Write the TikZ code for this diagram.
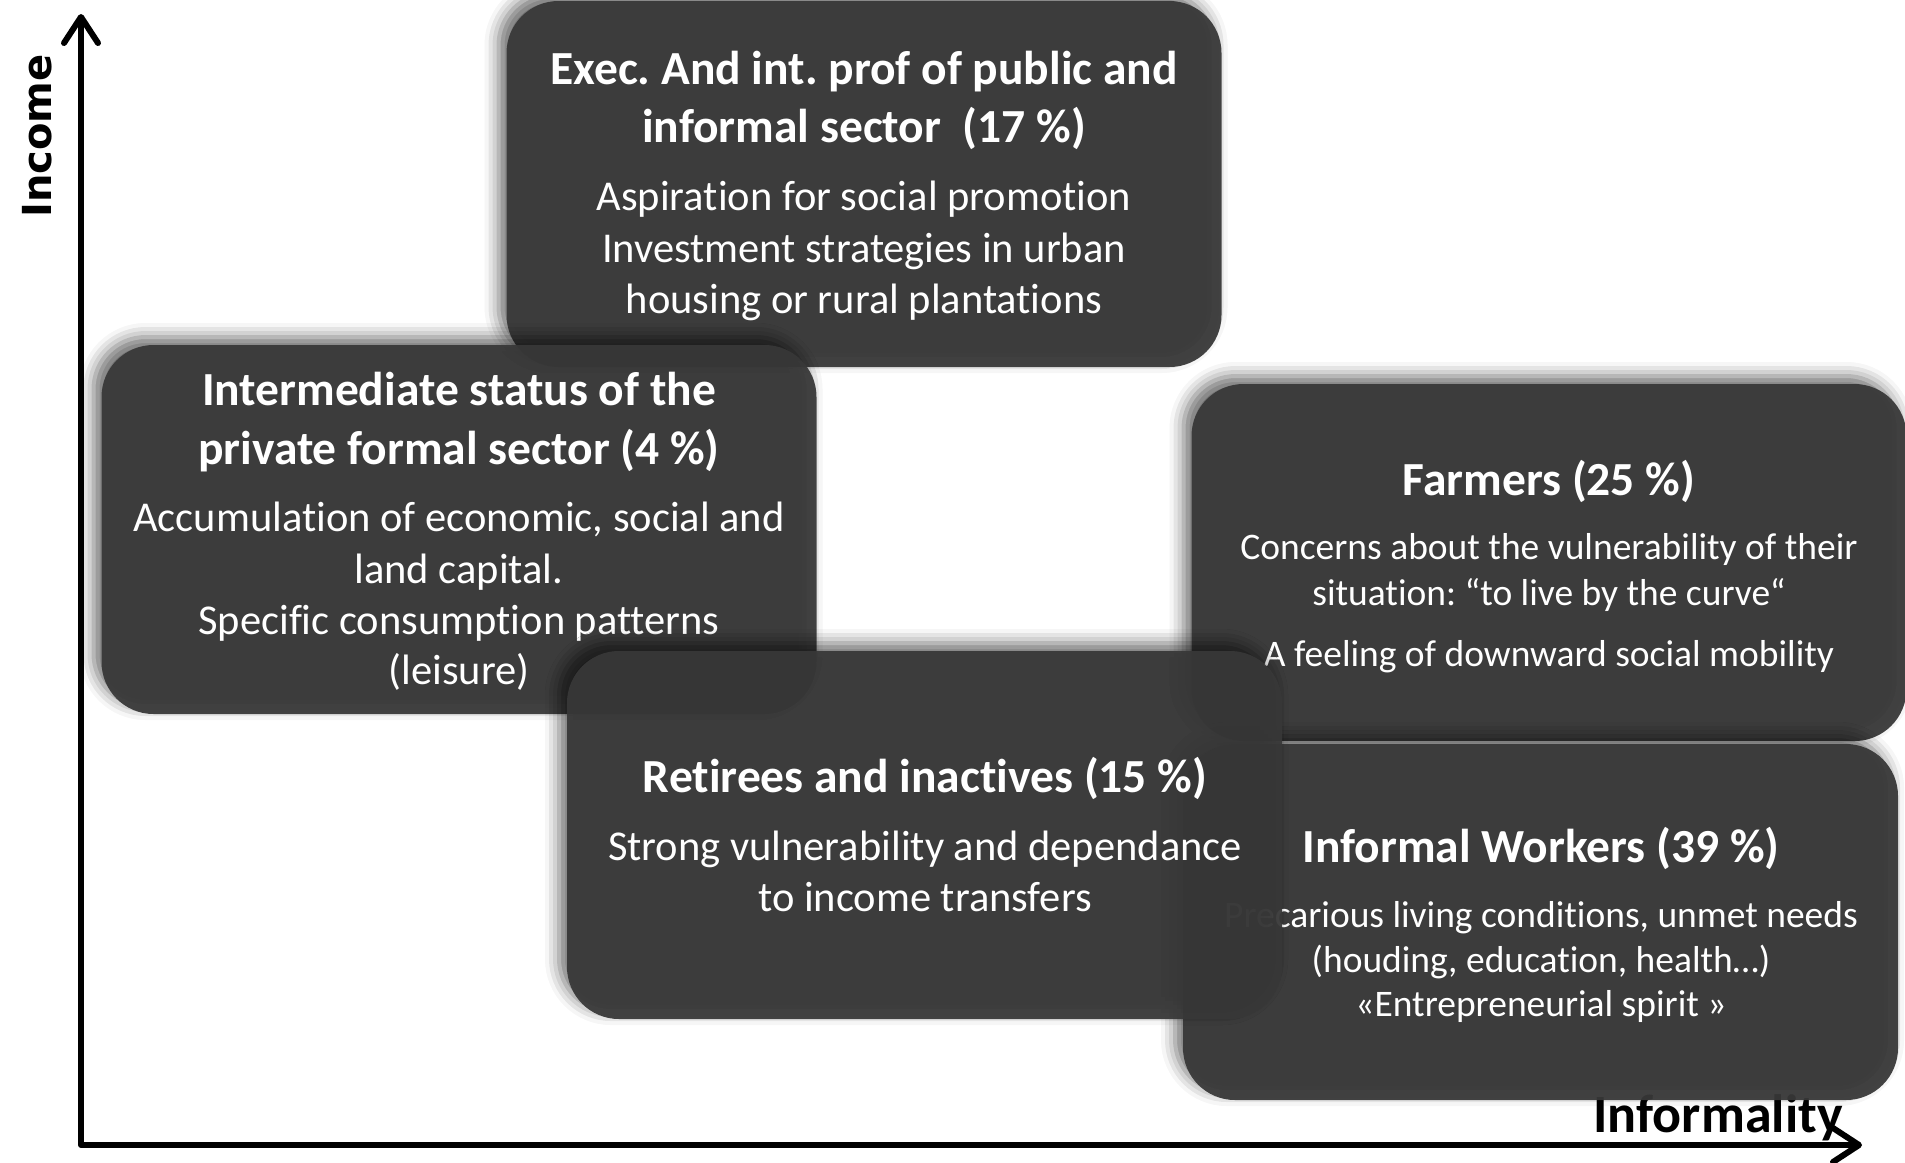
\documentclass[tikz,border=0pt]{standalone}
\usepackage{fontspec}
\setmainfont{Carlito}[Ligatures=NoCommon]
\newfontfamily\incfont{DejaVu Sans}
\usetikzlibrary{shadows.blur,arrows.meta}
\definecolor{boxgray}{gray}{0.22}
\frenchspacing
\begin{document}
\begin{tikzpicture}[x=0.5pt,y=-0.5pt,
  card/.style={draw=none, fill=boxgray, fill opacity=0.94, rounded corners=26pt,
    inner sep=0pt, minimum width=357.5pt,
    blur shadow={shadow xshift=-4pt, shadow yshift=4pt, shadow blur radius=7pt, shadow opacity=60}},
  ttl/.style={text=white, anchor=base, inner sep=0pt, font=\fontsize{23.75}{28.5}\selectfont\bfseries},
  bdy/.style={text=white, anchor=base, inner sep=0pt, font=\fontsize{21.25}{25.5}\selectfont},
  bdys/.style={text=white, anchor=base, inner sep=0pt, font=\fontsize{18.75}{23}\selectfont},
  axis/.style={line width=3pt, line cap=round, line join=round,
    {Straight Barb[length=13pt,width=17pt,round]}-{Straight Barb[length=13pt,width=17pt,round]}},
]
\useasboundingbox (0,0) rectangle (1905,1162);
% axes
\coordinate (ytop) at (81,14);
\coordinate (orig) at (81,1145);
\coordinate (xend) at (1862,1145);
\draw[axis] (ytop) -- (orig) -- (xend);
\node[rotate=90, inner sep=0pt, font=\incfont\bfseries\fontsize{20}{24}\selectfont] (inc) at (37,136) {Income};
\node[anchor=base, inner sep=0pt, font=\fontsize{27}{32}\selectfont\bfseries] (infl) at (1718,1132) {Informality};

% Exec box
\node[card, minimum height=183pt] (exec) at (864,184) {};
\node[ttl] (e1) at (864,84) {Exec. And int. prof of public and};
\node[ttl] (e2) at (864,142) {informal sector\ \ (17 \%)};
\node[bdy] (e3) at (864,210) {Aspiration for social promotion};
\node[bdy] (e4) at (864,262) {Investment strategies in urban};
\node[bdy] (e5) at (864,313) {housing or rural plantations};

% Farmers box
\node[card, minimum height=178.5pt] (farm) at (1549,562.5) {};
\node[ttl] (f1) at (1549,495) {Farmers (25 \%)};
\node[bdys] (f2) at (1549,559) {Concerns about the vulnerability of their};
\node[bdys] (f3) at (1549,605) {situation: “to live by the curve“};
\node[bdys] (f4) at (1549,666) {A feeling of downward social mobility};

% Informal workers box
\node[card, minimum height=178pt] (inf) at (1540.5,922) {};
\node[ttl] (w1) at (1541,862) {Informal Workers (39 \%)};
\node[bdys] (w2) at (1541,927) {Precarious living conditions, unmet needs};
\node[bdys] (w3) at (1541,972) {(houding, education, health…)};
\node[bdys] (w4) at (1541,1016) {«Entrepreneurial spirit »};

% Intermediate box
\node[card, minimum height=184.5pt] (inter) at (459,529.5) {};
\node[ttl] (i1) at (459,405) {Intermediate status of the};
\node[ttl] (i2) at (459,464) {private formal sector (4 \%)};
\node[bdy] (i3) at (459,531) {Accumulation of economic, social and};
\node[bdy] (i4) at (459,583) {land capital.};
\node[bdy] (i5) at (459,634) {Specific consumption patterns};
\node[bdy] (i6) at (459,684) {(leisure)};

% Retirees box
\node[card, minimum height=184pt] (ret) at (924.5,835) {};
\node[ttl] (r1) at (925,792) {Retirees and inactives (15 \%)};
\node[bdy] (r2) at (925,860) {Strong vulnerability and dependance};
\node[bdy] (r3) at (925,911) {to income transfers};
\end{tikzpicture}
\end{document}
